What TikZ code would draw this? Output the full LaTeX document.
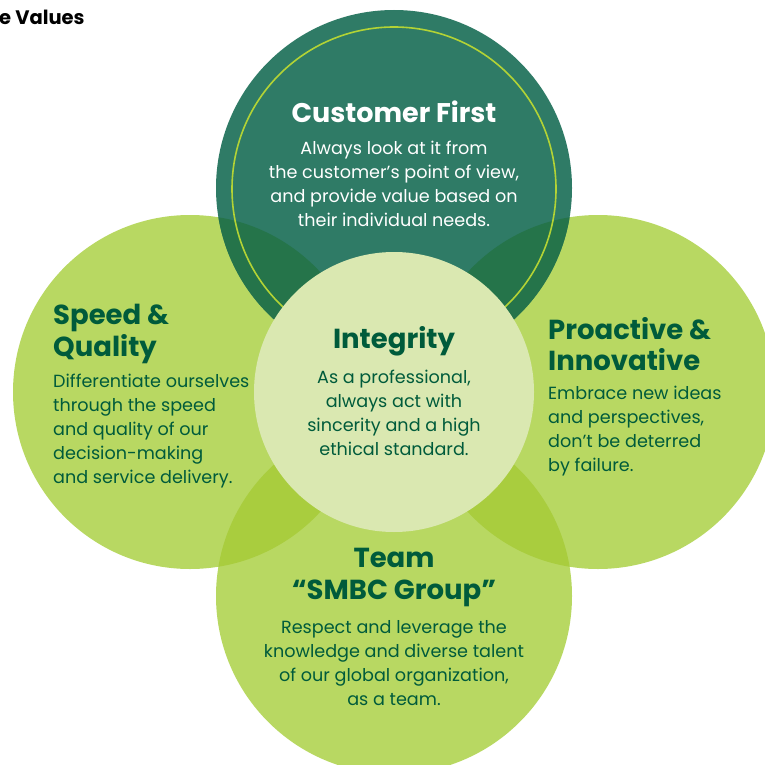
\documentclass[tikz,border=0pt]{standalone}
\usepackage{fontspec}
\setmainfont{Poppins}
\definecolor{topgreen}{HTML}{2F7B66}
\definecolor{topover}{HTML}{25744A}
\definecolor{lightg}{HTML}{B8D862}
\definecolor{lightover}{HTML}{A9CD3E}
\definecolor{centerg}{HTML}{DAE8B1}
\definecolor{ringg}{HTML}{B3D335}
\definecolor{txtg}{HTML}{005B3B}
\tikzset{
  title/.style={inner sep=0pt, font=\fontsize{27.5}{31.5}\selectfont\bfseries, text=txtg},
  body/.style={inner sep=0pt, font=\fontsize{17.6}{24}\selectfont, text=txtg},
}
\begin{document}
\begin{tikzpicture}[x=1pt,y=-1pt]
\useasboundingbox (0,0) rectangle (764,765);
\coordinate (T) at (394,188);
\coordinate (L) at (190,392);
\coordinate (R) at (598,392);
\coordinate (B) at (394,596);
\coordinate (C) at (394,392);
% light circles
\fill[lightg] (L) circle[radius=177pt];
\fill[lightg] (R) circle[radius=177pt];
\fill[lightg] (B) circle[radius=178pt];
\begin{scope}
  \clip (B) circle[radius=178pt];
  \fill[lightover] (L) circle[radius=177pt];
  \fill[lightover] (R) circle[radius=177pt];
\end{scope}
% top circle
\fill[topgreen] (T) circle[radius=178pt];
\begin{scope}
  \clip (T) circle[radius=178pt];
  \fill[topover] (L) circle[radius=177pt];
  \fill[topover] (R) circle[radius=177pt];
\end{scope}
\draw[ringg, line width=1.6pt] (394,189) circle[radius=162pt];
% centre circle
\fill[centerg] (C) circle[radius=140pt];
% header
\node[inner sep=0pt, anchor=west, font=\fontsize{19.5}{22}\selectfont\bfseries] (hdr) at (-1,17) {e Values};
% texts
\node[title, text=white, font=\fontsize{27}{31}\selectfont\bfseries] (cft) at (394,111.5) {Customer First};
\node[body, text=white, align=center] (cfb) at (394,184) {Always look at it from\\the customer’s point of view,\\and provide value based on\\their individual needs.};
\node[title, align=left, anchor=west] (sqt) at (53,334) {Speed \&\\Quality};
\node[body, align=left, anchor=west] (sqb) at (53,431) {Differentiate ourselves\\through the speed\\and quality of our\\decision-making\\and service delivery.};
\node[title, align=left, anchor=west] (pit) at (548,344) {Proactive \&\\Innovative};
\node[body, align=left, anchor=west] (pib) at (548,431) {Embrace new ideas\\and perspectives,\\don’t be deterred\\by failure.};
\node[title] (int) at (394,341) {Integrity};
\node[body, align=center] (intb) at (394,412.5) {As a professional,\\always act with\\sincerity and a high\\ethical standard.};
\node[title, align=center] (tmt) at (394,577.5) {Team\\“SMBC Group”};
\node[body, align=center] (tmb) at (394,663) {Respect and leverage the\\knowledge and diverse talent\\of our global organization,\\as a team.};
\end{tikzpicture}
\end{document}
